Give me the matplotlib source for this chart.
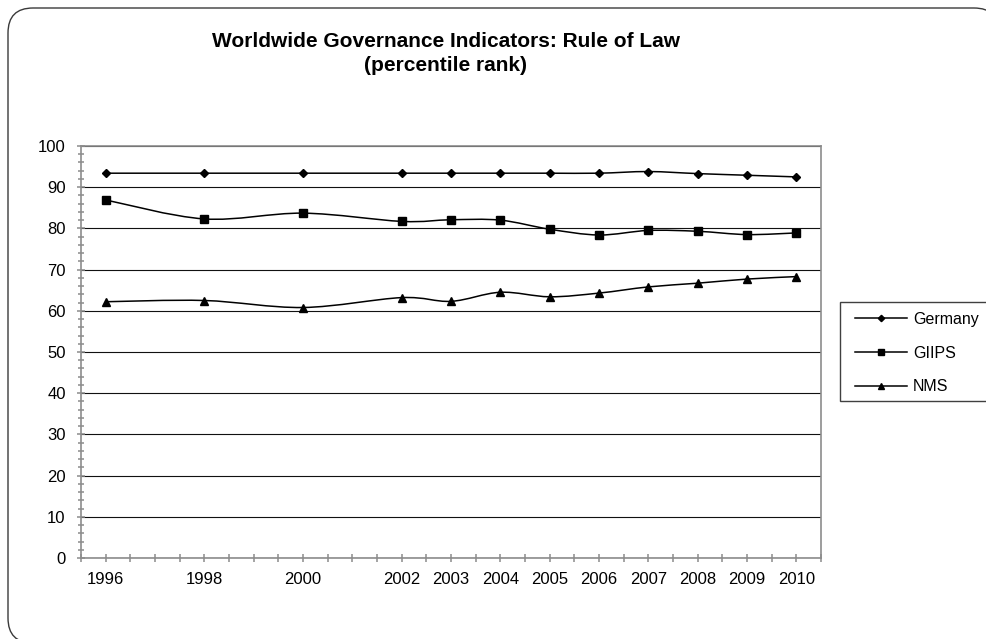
import matplotlib
matplotlib.use("Agg")
import matplotlib.pyplot as plt
from matplotlib.path import Path
from matplotlib.patches import PathPatch, FancyBboxPatch, Rectangle
from matplotlib.lines import Line2D
from matplotlib.ticker import FixedLocator, FuncFormatter, MultipleLocator

plt.rcParams['font.family'] = ['Liberation Sans', 'DejaVu Sans']

years = [1996, 1998, 2000, 2002, 2003, 2004, 2005, 2006, 2007, 2008, 2009, 2010]
germany = [93.4, 93.4, 93.4, 93.4, 93.4, 93.4, 93.4, 93.4, 93.8, 93.3, 92.9, 92.5]
giips = [86.9, 82.3, 83.7, 81.7, 82.1, 82.0, 79.8, 78.4, 79.5, 79.3, 78.5, 78.9]
nms = [62.2, 62.5, 60.8, 63.2, 62.3, 64.5, 63.4, 64.3, 65.8, 66.7, 67.7, 68.3]

series_names = ["Germany", "GIIPS", "NMS"]
series_values = [germany, giips, nms]
series_markers = ["D", "s", "^"]
marker_sizes = [3.8, 5.3, 5.8]

title = "Worldwide Governance Indicators: Rule of Law\n(percentile rank)"

W, H = 986, 639
fig = plt.figure(figsize=(W / 100, H / 100), dpi=100)

# rounded frame around the whole chart (pixel coordinates, origin bottom-left);
# a filled face keeps the curved corners intact where the box runs off the canvas
frame = FancyBboxPatch((8, -4), 991, 635, boxstyle="round,pad=0,rounding_size=25",
                       transform=None, facecolor="white", edgecolor="#3a3a3a",
                       linewidth=1.0, zorder=-1)
fig.add_artist(frame)

ax = fig.add_axes([81 / W, 1 - 558 / H, (821 - 81) / W, (558 - 146) / H])


def smooth_path(xs, ys):
    """Cubic Bezier path through the points (Catmull-Rom style smoothing)."""
    pts = list(zip(xs, ys))
    n = len(pts)
    verts = [pts[0]]
    codes = [Path.MOVETO]
    for i in range(n - 1):
        p0 = pts[i - 1] if i > 0 else pts[i]
        p1 = pts[i]
        p2 = pts[i + 1]
        p3 = pts[i + 2] if i + 2 < n else pts[i + 1]
        c1 = (p1[0] + (p2[0] - p0[0]) / 6, p1[1] + (p2[1] - p0[1]) / 6)
        c2 = (p2[0] - (p3[0] - p1[0]) / 6, p2[1] - (p3[1] - p1[1]) / 6)
        verts += [c1, c2, p2]
        codes += [Path.CURVE4] * 3
    return Path(verts, codes)


handles = []
for name, vals, mk, ms in zip(series_names, series_values, series_markers, marker_sizes):
    ax.add_patch(PathPatch(smooth_path(years, vals), facecolor="none",
                           edgecolor="black", linewidth=1.1, zorder=3))
    ax.plot(years, vals, linestyle="none", marker=mk, markersize=ms,
            color="black", zorder=4)
    handles.append(Line2D([], [], color="black", linewidth=1.1, marker=mk,
                          markersize=ms * 0.85, label=name))

ax.set_xlim(1995.5, 2010.5)
ax.set_ylim(0, 100)

ax.yaxis.set_major_locator(MultipleLocator(10))
ax.yaxis.set_minor_locator(MultipleLocator(2))
ax.grid(axis="y", which="major", color="#111111", linewidth=0.8)

half_years = [1995.5 + 0.5 * k for k in range(31)]
ax.xaxis.set_major_locator(FixedLocator(half_years))
ax.xaxis.set_major_formatter(FuncFormatter(
    lambda v, pos: str(int(round(v))) if any(abs(v - y) < 1e-6 for y in years) else ""))

for s in ax.spines.values():
    s.set_color("#8c8c8c")
    s.set_linewidth(1.2)

ax.tick_params(axis="both", which="both", direction="inout", color="#8c8c8c",
               width=1.1, labelsize=12, labelcolor="black")
ax.tick_params(axis="x", which="major", length=6, pad=7)
ax.tick_params(axis="y", which="major", length=6, pad=8)
ax.tick_params(axis="y", which="minor", length=5)

fig.text(446 / W, 1 - 53.5 / H, title, ha="center", va="center",
         fontsize=15, fontweight="bold", linespacing=1.33)

# legend box, running past the right edge of the figure
fig.add_artist(Rectangle((840, H - 401), 170, 99.3, transform=None,
                         facecolor="white", edgecolor="#404040", linewidth=1.0))
fig.legend(handles=handles, loc="center left",
           bbox_to_anchor=(855 / W, 1 - 353 / H),
           bbox_transform=fig.transFigure, fontsize=11.5,
           frameon=False, borderaxespad=0, borderpad=0, handlelength=3.25,
           handletextpad=0.38, labelspacing=1.17)

fig.savefig("out.png", dpi=100, facecolor="white")
